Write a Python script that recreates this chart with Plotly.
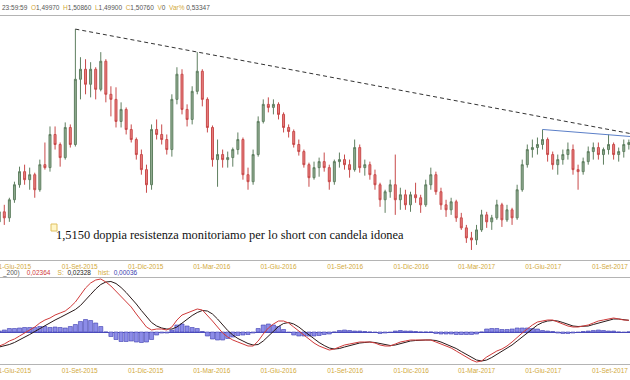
import plotly.graph_objects as go
import pandas as pd

# ---- data (EUR/AUD-like, weekly candles) ----
dates = pd.date_range("2015-05-13", periods=125, freq="7D")

open_ = [1.4010, 1.4145, 1.4064, 1.4307, 1.4509, 1.4685, 1.4577, 1.4644, 1.4442, 1.4779,
         1.4739, 1.5185, 1.5050, 1.4874, 1.5279, 1.5050, 1.5927, 1.6062, 1.5860, 1.6062,
         1.5792, 1.6170, 1.5725, 1.5657, 1.5360, 1.5522, 1.5252, 1.5117, 1.4915, 1.4712,
         1.4509, 1.5252, 1.5185, 1.5117, 1.4982, 1.5657, 1.5995, 1.5522, 1.5387, 1.5765,
         1.6035, 1.5657, 1.5279, 1.4847, 1.4915, 1.4847, 1.4874, 1.4982, 1.5117, 1.4644,
         1.4550, 1.4915, 1.5360, 1.5590, 1.5549, 1.5590, 1.5455, 1.5279, 1.5225, 1.5050,
         1.4955, 1.4779, 1.4604, 1.4739, 1.4820, 1.4739, 1.4550, 1.4820, 1.4847, 1.4779,
         1.4712, 1.5009, 1.4739, 1.4779, 1.4644, 1.4509, 1.4307, 1.4415, 1.4509, 1.4307,
         1.4374, 1.4239, 1.4374, 1.4334, 1.4239, 1.4509, 1.4644, 1.4415, 1.4239, 1.4172,
         1.4280, 1.4064, 1.3929, 1.3794, 1.3767, 1.3902, 1.4104, 1.4010, 1.4064, 1.4239,
         1.4037, 1.4172, 1.4064, 1.4442, 1.4779, 1.4982, 1.5009, 1.5050, 1.5117, 1.4915,
         1.4779, 1.4847, 1.4915, 1.4982, 1.4712, 1.4685, 1.4820, 1.4955, 1.5009, 1.4915,
         1.4982, 1.5050, 1.4915, 1.4955, 1.5050]
high = [1.4212, 1.4239, 1.4334, 1.4550, 1.4752, 1.4779, 1.4739, 1.4671, 1.4847, 1.5077,
        1.5293, 1.5293, 1.5077, 1.5347, 1.5320, 1.6602, 1.6224, 1.6197, 1.6157, 1.6089,
        1.6292, 1.6197, 1.5833, 1.5819, 1.5617, 1.5549, 1.5320, 1.5144, 1.4982, 1.4779,
        1.5320, 1.5387, 1.5320, 1.5185, 1.5725, 1.6089, 1.6062, 1.5590, 1.5833, 1.6292,
        1.6062, 1.5684, 1.5306, 1.5117, 1.4982, 1.4955, 1.5009, 1.5212, 1.5144, 1.4739,
        1.4982, 1.5428, 1.5657, 1.5684, 1.5657, 1.5617, 1.5482, 1.5320, 1.5252, 1.5117,
        1.4982, 1.4806, 1.4820, 1.4874, 1.4942, 1.4779, 1.4847, 1.4942, 1.4915, 1.4847,
        1.5117, 1.5050, 1.4847, 1.4820, 1.4712, 1.4536, 1.4442, 1.4577, 1.4915, 1.4469,
        1.4442, 1.4415, 1.4536, 1.4374, 1.4577, 1.4739, 1.4685, 1.4469, 1.4307, 1.4334,
        1.4307, 1.4131, 1.3969, 1.3875, 1.3969, 1.4172, 1.4145, 1.4104, 1.4307, 1.4266,
        1.4239, 1.4199, 1.4509, 1.4847, 1.5050, 1.5117, 1.5144, 1.5252, 1.5144, 1.4955,
        1.4915, 1.4982, 1.5077, 1.5050, 1.4779, 1.4874, 1.5023, 1.5077, 1.5077, 1.5009,
        1.5185, 1.5077, 1.5009, 1.5117, 1.5117]
low = [1.3942, 1.3969, 1.4010, 1.4266, 1.4469, 1.4509, 1.4442, 1.4334, 1.4415, 1.4712,
       1.4685, 1.4982, 1.4752, 1.4847, 1.5009, 1.5023, 1.5657, 1.5725, 1.5684, 1.5657,
       1.5765, 1.5617, 1.5428, 1.5279, 1.5279, 1.5185, 1.5077, 1.4847, 1.4644, 1.4401,
       1.4442, 1.5117, 1.5050, 1.4915, 1.4887, 1.5590, 1.5455, 1.5293, 1.5320, 1.5725,
       1.5563, 1.5212, 1.4752, 1.4482, 1.4739, 1.4739, 1.4752, 1.4915, 1.4577, 1.4442,
       1.4509, 1.4887, 1.5333, 1.5482, 1.5455, 1.5387, 1.5212, 1.5144, 1.5009, 1.4901,
       1.4739, 1.4482, 1.4577, 1.4617, 1.4685, 1.4442, 1.4509, 1.4739, 1.4712, 1.4604,
       1.4685, 1.4671, 1.4631, 1.4577, 1.4442, 1.4212, 1.4131, 1.4334, 1.4104, 1.4172,
       1.4172, 1.4145, 1.4266, 1.4131, 1.4212, 1.4442, 1.4374, 1.4172, 1.4077, 1.4104,
       1.4010, 1.3902, 1.3727, 1.3632, 1.3700, 1.3875, 1.3929, 1.3902, 1.4037, 1.3942,
       1.4010, 1.3969, 1.4037, 1.4415, 1.4739, 1.4874, 1.4915, 1.4982, 1.4820, 1.4712,
       1.4644, 1.4779, 1.4847, 1.4644, 1.4442, 1.4644, 1.4779, 1.4847, 1.4847, 1.4779,
       1.4915, 1.4847, 1.4820, 1.4874, 1.4982]
close = [1.4145, 1.4064, 1.4307, 1.4509, 1.4685, 1.4577, 1.4644, 1.4442, 1.4779, 1.4739,
         1.5185, 1.5050, 1.4874, 1.5279, 1.5050, 1.5927, 1.6062, 1.5860, 1.6062, 1.5792,
         1.6170, 1.5725, 1.5657, 1.5360, 1.5522, 1.5252, 1.5117, 1.4915, 1.4712, 1.4509,
         1.5252, 1.5185, 1.5117, 1.4982, 1.5657, 1.5995, 1.5522, 1.5387, 1.5765, 1.6035,
         1.5657, 1.5279, 1.4847, 1.4915, 1.4847, 1.4874, 1.4982, 1.5117, 1.4644, 1.4550,
         1.4915, 1.5360, 1.5590, 1.5549, 1.5590, 1.5455, 1.5279, 1.5225, 1.5050, 1.4955,
         1.4779, 1.4604, 1.4739, 1.4820, 1.4739, 1.4550, 1.4820, 1.4847, 1.4779, 1.4712,
         1.5009, 1.4739, 1.4779, 1.4644, 1.4509, 1.4307, 1.4415, 1.4509, 1.4307, 1.4374,
         1.4239, 1.4374, 1.4334, 1.4239, 1.4509, 1.4644, 1.4415, 1.4239, 1.4172, 1.4280,
         1.4064, 1.3929, 1.3794, 1.3767, 1.3902, 1.4104, 1.4010, 1.4064, 1.4239, 1.4037,
         1.4172, 1.4064, 1.4442, 1.4779, 1.4982, 1.5009, 1.5050, 1.5117, 1.4915, 1.4779,
         1.4847, 1.4915, 1.4982, 1.4712, 1.4685, 1.4820, 1.4955, 1.5009, 1.4915, 1.4982,
         1.5050, 1.4915, 1.4955, 1.5050, 1.5076]

macd = [-0.028, -0.024, -0.018, -0.014, -0.008, -0.002, 0.004, 0.010, 0.018, 0.024,
        0.028, 0.034, 0.038, 0.042, 0.050, 0.060, 0.074, 0.088, 0.098, 0.104,
        0.106, 0.100, 0.092, 0.082, 0.070, 0.060, 0.050, 0.036, 0.022, 0.010,
        0.004, 0.006, 0.006, 0.004, 0.010, 0.024, 0.034, 0.038, 0.042, 0.046,
        0.044, 0.034, 0.022, 0.010, -0.002, -0.010, -0.016, -0.020, -0.024, -0.028,
        -0.028, -0.018, -0.004, 0.008, 0.016, 0.022, 0.022, 0.018, 0.010, 0.002,
        -0.006, -0.014, -0.022, -0.028, -0.032, -0.036, -0.034, -0.030, -0.026, -0.024,
        -0.022, -0.020, -0.020, -0.020, -0.022, -0.026, -0.028, -0.028, -0.024, -0.020,
        -0.018, -0.016, -0.016, -0.016, -0.016, -0.016, -0.020, -0.024, -0.028, -0.032,
        -0.038, -0.044, -0.050, -0.056, -0.060, -0.058, -0.050, -0.044, -0.038, -0.034,
        -0.028, -0.020, -0.010, -0.002, 0.006, 0.014, 0.020, 0.022, 0.024, 0.024,
        0.020, 0.016, 0.012, 0.010, 0.010, 0.012, 0.014, 0.018, 0.022, 0.024,
        0.026, 0.028, 0.026, 0.024, 0.02364]
signal = [-0.030, -0.028, -0.025, -0.021, -0.016, -0.011, -0.005, 0.001, 0.007, 0.013,
          0.019, 0.024, 0.029, 0.034, 0.039, 0.045, 0.053, 0.063, 0.075, 0.086,
          0.095, 0.100, 0.101, 0.097, 0.089, 0.079, 0.068, 0.056, 0.043, 0.030,
          0.019, 0.012, 0.008, 0.006, 0.006, 0.010, 0.018, 0.026, 0.033, 0.039,
          0.043, 0.042, 0.036, 0.026, 0.014, 0.003, -0.006, -0.013, -0.018, -0.023,
          -0.026, -0.025, -0.018, -0.008, 0.002, 0.011, 0.017, 0.019, 0.016, 0.010,
          0.002, -0.006, -0.014, -0.021, -0.027, -0.032, -0.034, -0.033, -0.030, -0.027,
          -0.024, -0.022, -0.021, -0.020, -0.021, -0.023, -0.026, -0.027, -0.026, -0.023,
          -0.020, -0.018, -0.017, -0.016, -0.016, -0.016, -0.017, -0.020, -0.024, -0.028,
          -0.033, -0.039, -0.045, -0.051, -0.056, -0.058, -0.056, -0.051, -0.045, -0.039,
          -0.033, -0.026, -0.018, -0.010, -0.002, 0.007, 0.014, 0.019, 0.022, 0.023,
          0.022, 0.019, 0.015, 0.012, 0.011, 0.011, 0.012, 0.015, 0.018, 0.021,
          0.024, 0.026, 0.026, 0.025, 0.02328]
hist = [0.002, 0.004, 0.007, 0.007, 0.008, 0.009, 0.009, 0.009, 0.011, 0.011,
        0.009, 0.010, 0.009, 0.008, 0.011, 0.015, 0.021, 0.025, 0.023, 0.018,
        0.011, 0.000, -0.009, -0.015, -0.019, -0.019, -0.018, -0.020, -0.021, -0.020,
        -0.015, -0.006, -0.002, -0.002, 0.004, 0.014, 0.016, 0.012, 0.009, 0.007,
        0.001, -0.008, -0.014, -0.016, -0.016, -0.013, -0.010, -0.007, -0.006, -0.005,
        -0.002, 0.007, 0.014, 0.016, 0.014, 0.011, 0.005, -0.001, -0.006, -0.008,
        -0.008, -0.008, -0.008, -0.007, -0.005, -0.004, 0.000, 0.003, 0.004, 0.003,
        0.002, 0.002, 0.001, 0.000, -0.001, -0.003, -0.002, -0.001, 0.002, 0.003,
        0.002, 0.002, 0.001, 0.000, 0.000, 0.000, -0.003, -0.004, -0.004, -0.004,
        -0.005, -0.005, -0.005, -0.005, -0.004, 0.000, 0.006, 0.007, 0.007, 0.005,
        0.005, 0.006, 0.008, 0.008, 0.008, 0.007, 0.006, 0.003, 0.002, 0.001,
        -0.002, -0.003, -0.003, -0.002, -0.001, 0.001, 0.002, 0.003, 0.004, 0.003,
        0.002, 0.002, 0.000, -0.001, 0.00036]

tick_dates = ["2015-06-01", "2015-09-01", "2015-12-01", "2016-03-01", "2016-06-01",
              "2016-09-01", "2016-12-01", "2017-03-01", "2017-06-01", "2017-09-01"]
tick_labels = ["01-Giu-2015", "01-Set-2015", "01-Dic-2015", "01-Mar-2016", "01-Giu-2016",
               "01-Set-2016", "01-Dic-2016", "01-Mar-2017", "01-Giu-2017", "01-Set-2017"]

# trend lines (drawn on the chart by the author)
trend_dates = ["2015-08-26", "2017-09-28 14:00"]
trend_prices = [1.6602, 1.5198]
resist_dates = ["2017-05-31", "2017-09-28 14:00"]
resist_prices = [1.5252, 1.5158]

x_range = ["2015-05-14 02:00", "2017-09-28 14:00"]
price_range = [1.3497, 1.6778]
macd_range = [-0.064, 0.108]

GOLD = "#d2a93a"
AX = "#b4b4b4"

fig = go.Figure()
fig.add_trace(go.Candlestick(
    x=dates, open=open_, high=high, low=low, close=close,
    increasing=dict(line=dict(color="#5f7f60", width=1), fillcolor="#93ad93"),
    decreasing=dict(line=dict(color="#c84a4a", width=1), fillcolor="#e88080"),
    whiskerwidth=0, xaxis="x", yaxis="y", showlegend=False))
fig.add_trace(go.Scatter(x=trend_dates, y=trend_prices, mode="lines",
                         line=dict(color="#333333", width=1, dash="4px,3px"),
                         xaxis="x", yaxis="y", showlegend=False))
fig.add_trace(go.Scatter(x=resist_dates, y=resist_prices, mode="lines",
                         line=dict(color="#5b7fc8", width=1),
                         xaxis="x", yaxis="y", showlegend=False))

fig.add_trace(go.Bar(x=dates, y=hist, marker=dict(color="#8c8ce8", line=dict(color="#3c3cb0", width=0.6)),
                     xaxis="x2", yaxis="y2", showlegend=False))
fig.add_trace(go.Scatter(x=dates, y=signal, mode="lines", line=dict(color="#2a1a1a", width=1),
                         xaxis="x2", yaxis="y2", showlegend=False))
fig.add_trace(go.Scatter(x=dates, y=macd, mode="lines", line=dict(color="#d03a3a", width=1),
                         xaxis="x2", yaxis="y2", showlegend=False))

H = 380.0
def py(px):
    return 1 - px / H

xcommon = dict(type="date", range=x_range, showgrid=False, zeroline=False,
               showline=True, mirror=True, linecolor=AX, linewidth=1,
               tickmode="array", tickvals=tick_dates, ticktext=tick_labels,
               ticks="", tickfont=dict(family="Liberation Sans, Arial", size=6.5, color=GOLD),
               ticklabeloverflow="allow", automargin=False,
               rangeslider=dict(visible=False), fixedrange=True)

fig.update_layout(
    width=630, height=380,
    margin=dict(l=0, r=0, t=0, b=0),
    paper_bgcolor="white", plot_bgcolor="white",
    bargap=0.2, boxgap=0.45,
    xaxis=dict(xcommon, anchor="y"),
    xaxis2=dict(xcommon, anchor="y2", matches="x"),
    yaxis=dict(domain=[py(260), py(16)], range=price_range, visible=False, fixedrange=True),
    yaxis2=dict(domain=[py(364), py(278)], range=macd_range, showgrid=False,
                showticklabels=False, zeroline=True, zerolinecolor="#5050c0", zerolinewidth=1,
                showline=False, fixedrange=True),
)

fnt = "Liberation Sans, Arial"
header = ("23:59:59 &nbsp;<span style='color:%s'>O</span>1,49970 &nbsp;<span style='color:%s'>H</span>1,50860"
          " &nbsp;<span style='color:%s'>L</span>1,49900 &nbsp;<span style='color:%s'>C</span>1,50760"
          " &nbsp;<span style='color:%s'>V</span>0 &nbsp;<span style='color:%s'>Var%%</span> 0,53347") % ((GOLD,) * 6)
fig.add_annotation(xref="paper", yref="paper", x=0, y=py(8), xanchor="left", yanchor="middle",
                   text=header, showarrow=False, font=dict(family=fnt, size=6.5, color="#555555"))

macd_header = ("<span style='color:#555'>_200)</span> &nbsp; &nbsp;<span style='color:#d03a3a'>0,02364</span>"
               " &nbsp; &nbsp;<span style='color:%s'>S:</span> &nbsp;<span style='color:#222'>0,02328</span>"
               " &nbsp; &nbsp;<span style='color:%s'>hist:</span> &nbsp;<span style='color:#3c3cb0'>0,00036</span>") % (GOLD, GOLD)
fig.add_annotation(xref="paper", yref="paper", x=0, y=py(273), xanchor="left", yanchor="middle",
                   text=macd_header, showarrow=False, font=dict(family=fnt, size=6.5, color="#555"))

fig.add_annotation(xref="paper", yref="paper", x=54 / 630, y=py(235), xanchor="left", yanchor="middle",
                   text="1,5150 doppia resistenza monitoriamo per lo short con candela idonea",
                   showarrow=False, font=dict(family="Liberation Serif, Times New Roman", size=12.4, color="#111"))
fig.add_shape(type="rect", xref="paper", yref="paper", x0=51 / 630, x1=57 / 630, y0=py(231), y1=py(224),
              line=dict(color="#e0c060", width=1), fillcolor="#fff6c8")

fig.write_html("out.html", config={"displayModeBar": False, "staticPlot": True},
               post_script="document.body.style.margin='0';document.body.style.padding='0';"
                           "document.documentElement.style.overflow='hidden';")
